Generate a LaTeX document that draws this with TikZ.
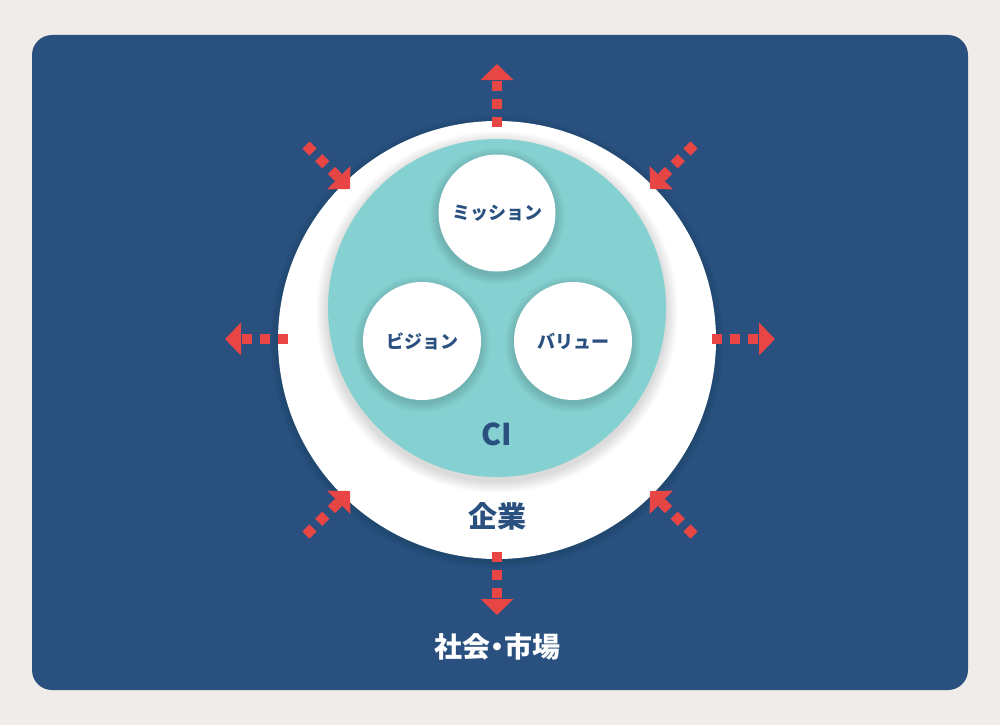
\documentclass[tikz,border=0pt]{standalone}
\usepackage{fontspec}
\newfontfamily\jp{Noto Sans CJK JP}
\newfontfamily\jpp{Noto Sans CJK JP}[RawFeature=+palt]
\usetikzlibrary{arrows.meta}
\definecolor{bgc}{HTML}{EFECEA}
\definecolor{navy}{HTML}{29507F}
\definecolor{ciTeal}{HTML}{85D1D1}
\definecolor{arrowred}{HTML}{E84545}
\begin{document}
\begin{tikzpicture}[x=1pt,y=-1pt,
  redarrow/.style={draw=arrowred, line width=10pt, dash pattern=on 10pt off 8pt,
    -{Triangle[length=16pt,width=32pt,fill=arrowred]}},
  bubble/.style={circle, fill=white, minimum size=#1, inner sep=0pt, text=navy,
    font=\jp\bfseries\fontsize{18pt}{20pt}\selectfont},
  shadowc/.style={fill=black, opacity=0.012},
  label/.style={text=navy, inner sep=0pt, font=\jp\bfseries\fontsize{#1}{#1}\selectfont}]
\useasboundingbox (0,0) rectangle (1000,725);
\fill[bgc] (0,0) rectangle (1000,725);
\fill[navy, rounded corners=20pt] (32,35) rectangle (968,690);
% company circle
\foreach \i in {1,...,8}{\fill[shadowc] (497,342) circle[radius=219pt+\i pt];}
\node[circle, fill=white, minimum size=438pt, inner sep=0pt] (corp) at (497,340) {};
% CI circle
\foreach \i in {1,...,12}{\fill[shadowc] (497,312) circle[radius=169pt+\i pt];}
\node[circle, fill=ciTeal, minimum size=338pt, inner sep=0pt] (ci) at (497,308) {};
% small circles
\foreach \c in {(497,216),(422,344),(573,344)}{
  \foreach \i in {1,...,10}{\fill[shadowc] \c circle[radius=58.5pt+\i pt];}}
\node[bubble=117pt] (mission) at (497,213) {ミッション};
\node[bubble=118pt] (vision) at (422,341) {ビジョン};
\node[bubble=118pt] (value) at (573,341) {バリュー};
% labels
\node[label=30pt] (cilabel) at (497,434) {CI};
\node[label=29pt] (corplabel) at (497,516) {企業};
\node[label=28pt, text=white, font=\jpp\bfseries\fontsize{28pt}{28pt}\selectfont] (market) at (497,647) {社会・市場};
% arrow end coordinates
\coordinate (sN) at (497,127); \coordinate (tN) at (497,64);
\coordinate (sS) at (497,552); \coordinate (tS) at (497,615);
\coordinate (sW) at (288,339); \coordinate (tW) at (225,339);
\coordinate (sE) at (712,339); \coordinate (tE) at (775,339);
\coordinate (sNW) at (306,145); \coordinate (tNW) at (350,189);
\coordinate (sNE) at (694,145); \coordinate (tNE) at (650,189);
\coordinate (sSW) at (306,535); \coordinate (tSW) at (350,491);
\coordinate (sSE) at (694,535); \coordinate (tSE) at (650,491);
\foreach \d in {N,S,W,E,NW,NE,SW,SE}{\draw[redarrow] (s\d) -- (t\d);}
\end{tikzpicture}
\end{document}
